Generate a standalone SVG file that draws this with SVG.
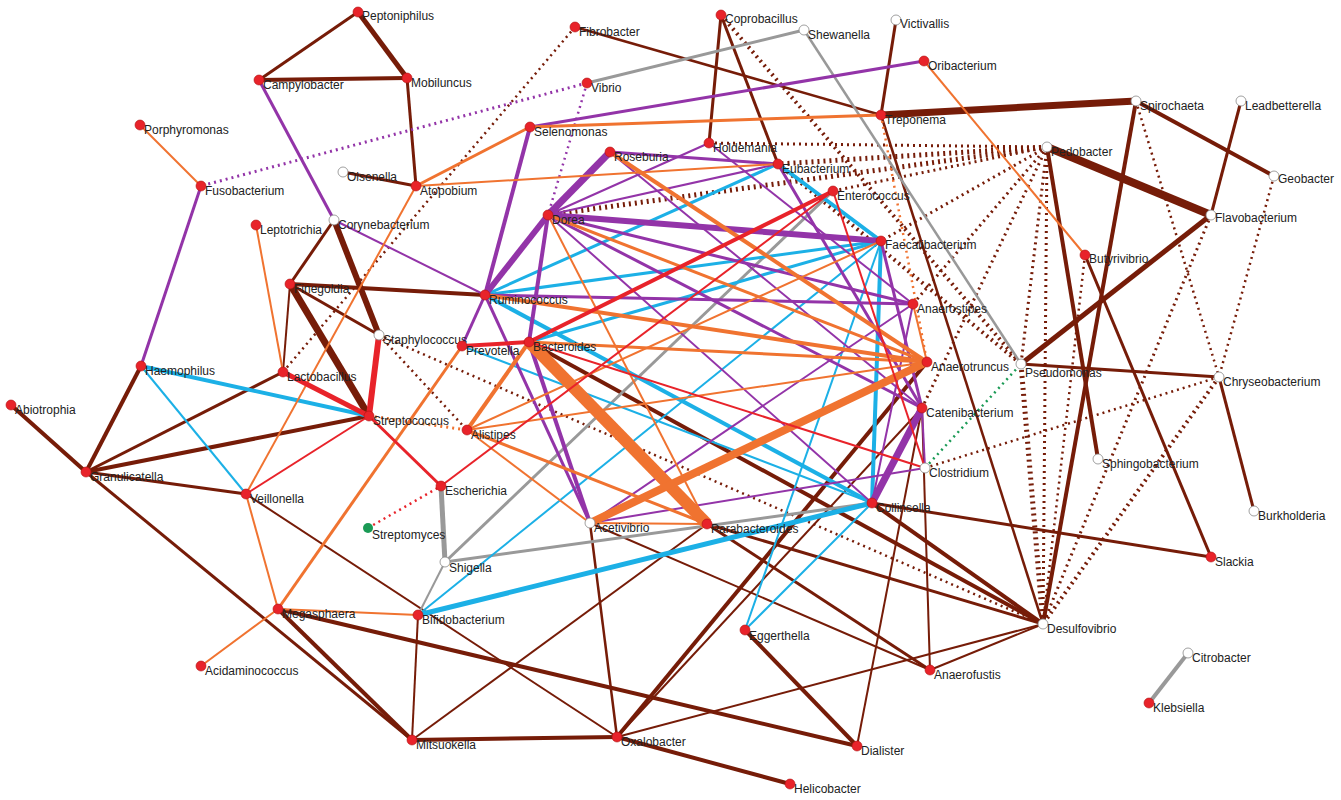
<svg xmlns="http://www.w3.org/2000/svg" width="1341" height="800" viewBox="0 0 1341 800">
<style>
text{font-family:"Liberation Sans",Arial,sans-serif;font-size:12px;fill:#222}
line{stroke-linecap:butt}
.b{stroke:#761c08}.o{stroke:#f07330}.p{stroke:#9334a8}.c{stroke:#1cb0e6}.r{stroke:#e8232a}.g{stroke:#999}.gr{stroke:#1a9a55}
.d{stroke-dasharray:2 4}
.R{fill:#e8232a;stroke:#b01010;stroke-width:.6}.W{fill:#fff;stroke:#888;stroke-width:.8}.G{fill:#1a9a55}
</style>
<rect width="1341" height="800" fill="#fff"/>
<g id="edges" fill="none">
<line class="b" stroke-width="3" x1="358" y1="12" x2="259" y2="80"/>
<line class="b" stroke-width="5" x1="358" y1="12" x2="407" y2="78"/>
<line class="b" stroke-width="4" x1="259" y1="80" x2="407" y2="78"/>
<line class="b" stroke-width="3" x1="407" y1="78" x2="416" y2="186"/>
<line class="b" stroke-width="3" x1="343" y1="172" x2="416" y2="186"/>
<line class="b" stroke-width="2.5" x1="575" y1="27" x2="881" y2="115"/>
<line class="b" stroke-width="3" x1="721" y1="15" x2="709" y2="143"/>
<line class="b" stroke-width="3" x1="721" y1="15" x2="778" y2="164"/>
<line class="b" stroke-width="3" x1="896" y1="20" x2="881" y2="115"/>
<line class="b" stroke-width="7" x1="881" y1="115" x2="1136" y2="101"/>
<line class="b" stroke-width="2.5" x1="881" y1="115" x2="1043" y2="624"/>
<line class="b" stroke-width="4" x1="1136" y1="101" x2="1274" y2="176"/>
<line class="b" stroke-width="4" x1="1136" y1="101" x2="1043" y2="624"/>
<line class="b" stroke-width="3" x1="1241" y1="101" x2="1211" y2="215"/>
<line class="b" stroke-width="8" x1="1047" y1="147" x2="1211" y2="215"/>
<line class="b" stroke-width="4" x1="1047" y1="147" x2="1098" y2="459"/>
<line class="b" stroke-width="5" x1="1211" y1="215" x2="1021" y2="364"/>
<line class="b" stroke-width="3" x1="1085" y1="255" x2="1211" y2="557"/>
<line class="b" stroke-width="3" x1="1021" y1="364" x2="1219" y2="377"/>
<line class="b" stroke-width="3" x1="1219" y1="377" x2="1254" y2="511"/>
<line class="b" stroke-width="3" x1="872" y1="503" x2="1211" y2="557"/>
<line class="b" stroke-width="3" x1="334" y1="220" x2="290" y2="284"/>
<line class="b" stroke-width="6" x1="334" y1="220" x2="379" y2="335"/>
<line class="b" stroke-width="4" x1="290" y1="284" x2="485" y2="295"/>
<line class="b" stroke-width="3" x1="290" y1="284" x2="379" y2="335"/>
<line class="b" stroke-width="7" x1="290" y1="284" x2="369" y2="416"/>
<line class="b" stroke-width="2" x1="290" y1="284" x2="283" y2="372"/>
<line class="b" stroke-width="4" x1="141" y1="366" x2="86" y2="472"/>
<line class="b" stroke-width="4" x1="11" y1="405" x2="86" y2="472"/>
<line class="b" stroke-width="3" x1="86" y1="472" x2="283" y2="372"/>
<line class="b" stroke-width="4" x1="86" y1="472" x2="369" y2="416"/>
<line class="b" stroke-width="3" x1="86" y1="472" x2="246" y2="494"/>
<line class="b" stroke-width="3" x1="86" y1="472" x2="412" y2="740"/>
<line class="b" stroke-width="2" x1="246" y1="494" x2="617" y2="737"/>
<line class="b" stroke-width="4" x1="278" y1="609" x2="412" y2="740"/>
<line class="b" stroke-width="4" x1="278" y1="609" x2="857" y2="746"/>
<line class="b" stroke-width="2" x1="418" y1="615" x2="412" y2="740"/>
<line class="b" stroke-width="4" x1="412" y1="740" x2="617" y2="737"/>
<line class="b" stroke-width="2" x1="412" y1="740" x2="707" y2="524"/>
<line class="b" stroke-width="2.5" x1="617" y1="737" x2="590" y2="523"/>
<line class="b" stroke-width="4" x1="617" y1="737" x2="927" y2="362"/>
<line class="b" stroke-width="2" x1="617" y1="737" x2="922" y2="408"/>
<line class="b" stroke-width="2" x1="617" y1="737" x2="1043" y2="624"/>
<line class="b" stroke-width="4" x1="617" y1="737" x2="790" y2="784"/>
<line class="b" stroke-width="4" x1="745" y1="630" x2="857" y2="746"/>
<line class="b" stroke-width="2" x1="857" y1="746" x2="922" y2="408"/>
<line class="b" stroke-width="3" x1="707" y1="524" x2="930" y2="670"/>
<line class="b" stroke-width="3" x1="707" y1="524" x2="1043" y2="624"/>
<line class="b" stroke-width="2" x1="590" y1="523" x2="930" y2="670"/>
<line class="b" stroke-width="4" x1="529" y1="342" x2="1043" y2="624"/>
<line class="b" stroke-width="4" x1="872" y1="503" x2="1043" y2="624"/>
<line class="b" stroke-width="2" x1="930" y1="670" x2="1043" y2="624"/>
<line class="b" stroke-width="2" x1="930" y1="670" x2="922" y2="408"/>
<line class="b d" stroke-width="5" x1="1047" y1="147" x2="548" y2="215"/>
<line class="b d" stroke-width="3" x1="1047" y1="147" x2="709" y2="143"/>
<line class="b d" stroke-width="5" x1="1047" y1="147" x2="778" y2="164"/>
<line class="b d" stroke-width="3" x1="1047" y1="147" x2="833" y2="191"/>
<line class="b d" stroke-width="3" x1="1047" y1="147" x2="881" y2="241"/>
<line class="b d" stroke-width="3" x1="1047" y1="147" x2="913" y2="304"/>
<line class="b d" stroke-width="3" x1="1047" y1="147" x2="922" y2="408"/>
<line class="b d" stroke-width="3" x1="1047" y1="147" x2="1021" y2="364"/>
<line class="b d" stroke-width="3" x1="1047" y1="147" x2="1043" y2="624"/>
<line class="b d" stroke-width="4" x1="721" y1="15" x2="1021" y2="364"/>
<line class="b d" stroke-width="4" x1="778" y1="164" x2="1021" y2="364"/>
<line class="b d" stroke-width="5" x1="1021" y1="364" x2="1043" y2="624"/>
<line class="b d" stroke-width="3" x1="1211" y1="215" x2="1043" y2="624"/>
<line class="b d" stroke-width="4" x1="1219" y1="377" x2="1043" y2="624"/>
<line class="b d" stroke-width="2.5" x1="1274" y1="176" x2="1219" y2="377"/>
<line class="b d" stroke-width="2.5" x1="1136" y1="101" x2="1219" y2="377"/>
<line class="b d" stroke-width="2.5" x1="1219" y1="377" x2="925" y2="468"/>
<line class="b d" stroke-width="2.5" x1="1085" y1="255" x2="1043" y2="624"/>
<line class="b d" stroke-width="2.5" x1="379" y1="335" x2="467" y2="430"/>
<line class="b d" stroke-width="2.5" x1="379" y1="335" x2="1043" y2="624"/>
<line class="b d" stroke-width="2.5" x1="575" y1="27" x2="283" y2="372"/>
<line class="p d" stroke-width="3" x1="587" y1="83" x2="201" y2="186"/>
<line class="p d" stroke-width="2.5" x1="587" y1="83" x2="548" y2="215"/>
<line class="r d" stroke-width="2.5" x1="368" y1="528" x2="441" y2="486"/>
<line class="gr d" stroke-width="2.5" x1="925" y1="468" x2="1021" y2="364"/>
<line class="o d" stroke-width="2.5" x1="881" y1="115" x2="927" y2="362"/>
<line class="o d" stroke-width="3" x1="369" y1="416" x2="467" y2="430"/>
<line class="g" stroke-width="3" x1="587" y1="83" x2="804" y2="30"/>
<line class="g" stroke-width="2.5" x1="804" y1="30" x2="1021" y2="364"/>
<line class="g" stroke-width="3" x1="833" y1="191" x2="445" y2="562"/>
<line class="g" stroke-width="5" x1="441" y1="486" x2="445" y2="562"/>
<line class="g" stroke-width="2" x1="445" y1="562" x2="418" y2="615"/>
<line class="g" stroke-width="3" x1="445" y1="562" x2="872" y2="503"/>
<line class="g" stroke-width="4" x1="1188" y1="653" x2="1149" y2="703"/>
<line class="c" stroke-width="4" x1="141" y1="366" x2="369" y2="416"/>
<line class="c" stroke-width="2" x1="141" y1="366" x2="246" y2="494"/>
<line class="c" stroke-width="5" x1="418" y1="615" x2="872" y2="503"/>
<line class="c" stroke-width="2" x1="418" y1="615" x2="881" y2="241"/>
<line class="c" stroke-width="3" x1="485" y1="295" x2="778" y2="164"/>
<line class="c" stroke-width="3" x1="485" y1="295" x2="881" y2="241"/>
<line class="c" stroke-width="4" x1="485" y1="295" x2="872" y2="503"/>
<line class="c" stroke-width="3" x1="529" y1="342" x2="881" y2="241"/>
<line class="c" stroke-width="4" x1="778" y1="164" x2="881" y2="241"/>
<line class="c" stroke-width="4" x1="881" y1="241" x2="872" y2="503"/>
<line class="c" stroke-width="2" x1="881" y1="241" x2="745" y2="630"/>
<line class="c" stroke-width="2" x1="872" y1="503" x2="745" y2="630"/>
<line class="c" stroke-width="2" x1="462" y1="346" x2="872" y2="503"/>
<line class="p" stroke-width="3" x1="259" y1="80" x2="334" y2="220"/>
<line class="p" stroke-width="2" x1="334" y1="220" x2="485" y2="295"/>
<line class="p" stroke-width="3" x1="201" y1="186" x2="141" y2="366"/>
<line class="p" stroke-width="3" x1="530" y1="127" x2="924" y2="61"/>
<line class="p" stroke-width="4" x1="530" y1="127" x2="485" y2="295"/>
<line class="p" stroke-width="6" x1="485" y1="295" x2="548" y2="215"/>
<line class="p" stroke-width="7" x1="548" y1="215" x2="610" y2="152"/>
<line class="p" stroke-width="3" x1="610" y1="152" x2="778" y2="164"/>
<line class="p" stroke-width="2" x1="610" y1="152" x2="922" y2="408"/>
<line class="p" stroke-width="2" x1="709" y1="143" x2="548" y2="215"/>
<line class="p" stroke-width="2" x1="709" y1="143" x2="913" y2="304"/>
<line class="p" stroke-width="2" x1="548" y1="215" x2="778" y2="164"/>
<line class="p" stroke-width="6" x1="548" y1="215" x2="881" y2="241"/>
<line class="p" stroke-width="3" x1="548" y1="215" x2="913" y2="304"/>
<line class="p" stroke-width="3" x1="548" y1="215" x2="922" y2="408"/>
<line class="p" stroke-width="4" x1="548" y1="215" x2="529" y2="342"/>
<line class="p" stroke-width="2" x1="548" y1="215" x2="872" y2="503"/>
<line class="p" stroke-width="3" x1="485" y1="295" x2="913" y2="304"/>
<line class="p" stroke-width="3" x1="485" y1="295" x2="462" y2="346"/>
<line class="p" stroke-width="3" x1="485" y1="295" x2="590" y2="523"/>
<line class="p" stroke-width="4" x1="529" y1="342" x2="590" y2="523"/>
<line class="p" stroke-width="3" x1="778" y1="164" x2="922" y2="408"/>
<line class="p" stroke-width="3" x1="881" y1="241" x2="922" y2="408"/>
<line class="p" stroke-width="2" x1="913" y1="304" x2="872" y2="503"/>
<line class="p" stroke-width="7" x1="922" y1="408" x2="872" y2="503"/>
<line class="p" stroke-width="2" x1="922" y1="408" x2="925" y2="468"/>
<line class="p" stroke-width="2" x1="590" y1="523" x2="925" y2="468"/>
<line class="p" stroke-width="2" x1="590" y1="523" x2="913" y2="304"/>
<line class="o" stroke-width="2" x1="140" y1="125" x2="201" y2="186"/>
<line class="o" stroke-width="2" x1="256" y1="225" x2="283" y2="372"/>
<line class="o" stroke-width="2" x1="924" y1="61" x2="1085" y2="255"/>
<line class="o" stroke-width="3" x1="530" y1="127" x2="416" y2="186"/>
<line class="o" stroke-width="2" x1="416" y1="186" x2="778" y2="164"/>
<line class="o" stroke-width="2" x1="416" y1="186" x2="246" y2="494"/>
<line class="o" stroke-width="3" x1="881" y1="115" x2="530" y2="127"/>
<line class="o" stroke-width="2" x1="246" y1="494" x2="278" y2="609"/>
<line class="o" stroke-width="2" x1="278" y1="609" x2="201" y2="666"/>
<line class="o" stroke-width="2" x1="278" y1="609" x2="418" y2="615"/>
<line class="o" stroke-width="3" x1="278" y1="609" x2="462" y2="346"/>
<line class="o" stroke-width="4" x1="610" y1="152" x2="927" y2="362"/>
<line class="o" stroke-width="3" x1="548" y1="215" x2="927" y2="362"/>
<line class="o" stroke-width="2" x1="548" y1="215" x2="707" y2="524"/>
<line class="o" stroke-width="4" x1="485" y1="295" x2="927" y2="362"/>
<line class="o" stroke-width="3" x1="529" y1="342" x2="927" y2="362"/>
<line class="o" stroke-width="12" x1="529" y1="342" x2="707" y2="524"/>
<line class="o" stroke-width="4" x1="529" y1="342" x2="467" y2="430"/>
<line class="o" stroke-width="2" x1="467" y1="430" x2="881" y2="241"/>
<line class="o" stroke-width="2" x1="467" y1="430" x2="927" y2="362"/>
<line class="o" stroke-width="3" x1="467" y1="430" x2="707" y2="524"/>
<line class="o" stroke-width="2" x1="467" y1="430" x2="590" y2="523"/>
<line class="o" stroke-width="8" x1="590" y1="523" x2="927" y2="362"/>
<line class="o" stroke-width="2" x1="590" y1="523" x2="707" y2="524"/>
<line class="o" stroke-width="2" x1="913" y1="304" x2="927" y2="362"/>
<line class="r" stroke-width="6" x1="379" y1="335" x2="369" y2="416"/>
<line class="r" stroke-width="5" x1="283" y1="372" x2="369" y2="416"/>
<line class="r" stroke-width="3" x1="369" y1="416" x2="441" y2="486"/>
<line class="r" stroke-width="2" x1="369" y1="416" x2="246" y2="494"/>
<line class="r" stroke-width="2" x1="441" y1="486" x2="833" y2="191"/>
<line class="r" stroke-width="4" x1="529" y1="342" x2="833" y2="191"/>
<line class="r" stroke-width="4" x1="462" y1="346" x2="529" y2="342"/>
<line class="r" stroke-width="2" x1="833" y1="191" x2="925" y2="468"/>
<line class="r" stroke-width="2" x1="529" y1="342" x2="925" y2="468"/>
</g>
<g id="n-Peptoniphilus"><circle class="R" cx="358" cy="12" r="5"/><text x="362" y="20">Peptoniphilus</text></g>
<g id="n-Campylobacter"><circle class="R" cx="259" cy="80" r="5"/><text x="263" y="89">Campylobacter</text></g>
<g id="n-Mobiluncus"><circle class="R" cx="407" cy="78" r="5"/><text x="411" y="87">Mobiluncus</text></g>
<g id="n-Fibrobacter"><circle class="R" cx="575" cy="27" r="5"/><text x="579" y="36">Fibrobacter</text></g>
<g id="n-Coprobacillus"><circle class="R" cx="721" cy="15" r="5"/><text x="725" y="23">Coprobacillus</text></g>
<g id="n-Shewanella"><circle class="W" cx="804" cy="30" r="5"/><text x="808" y="39">Shewanella</text></g>
<g id="n-Victivallis"><circle class="W" cx="896" cy="20" r="5"/><text x="900" y="28">Victivallis</text></g>
<g id="n-Oribacterium"><circle class="R" cx="924" cy="61" r="5"/><text x="928" y="70">Oribacterium</text></g>
<g id="n-Vibrio"><circle class="R" cx="587" cy="83" r="5"/><text x="591" y="92">Vibrio</text></g>
<g id="n-Porphyromonas"><circle class="R" cx="140" cy="125" r="5"/><text x="144" y="134">Porphyromonas</text></g>
<g id="n-Spirochaeta"><circle class="W" cx="1136" cy="101" r="5"/><text x="1140" y="110">Spirochaeta</text></g>
<g id="n-Leadbetterella"><circle class="W" cx="1241" cy="101" r="5"/><text x="1245" y="110">Leadbetterella</text></g>
<g id="n-Treponema"><circle class="R" cx="881" cy="115" r="5"/><text x="885" y="124">Treponema</text></g>
<g id="n-Selenomonas"><circle class="R" cx="530" cy="127" r="5"/><text x="534" y="136">Selenomonas</text></g>
<g id="n-Holdemania"><circle class="R" cx="709" cy="143" r="5"/><text x="713" y="152">Holdemania</text></g>
<g id="n-Roseburia"><circle class="R" cx="610" cy="152" r="5"/><text x="614" y="161">Roseburia</text></g>
<g id="n-Eubacterium"><circle class="R" cx="778" cy="164" r="5"/><text x="782" y="173">Eubacterium</text></g>
<g id="n-Pedobacter"><circle class="W" cx="1047" cy="147" r="5"/><text x="1051" y="156">Pedobacter</text></g>
<g id="n-Geobacter"><circle class="W" cx="1274" cy="176" r="5"/><text x="1278" y="183">Geobacter</text></g>
<g id="n-Olsenella"><circle class="W" cx="343" cy="172" r="5"/><text x="347" y="181">Olsenella</text></g>
<g id="n-Atopobium"><circle class="R" cx="416" cy="186" r="5"/><text x="420" y="195">Atopobium</text></g>
<g id="n-Fusobacterium"><circle class="R" cx="201" cy="186" r="5"/><text x="205" y="195">Fusobacterium</text></g>
<g id="n-Enterococcus"><circle class="R" cx="833" cy="191" r="5"/><text x="837" y="200">Enterococcus</text></g>
<g id="n-Dorea"><circle class="R" cx="548" cy="215" r="5"/><text x="552" y="224">Dorea</text></g>
<g id="n-Flavobacterium"><circle class="W" cx="1211" cy="215" r="5"/><text x="1215" y="222">Flavobacterium</text></g>
<g id="n-Leptotrichia"><circle class="R" cx="256" cy="225" r="5"/><text x="260" y="234">Leptotrichia</text></g>
<g id="n-Corynebacterium"><circle class="W" cx="334" cy="220" r="5"/><text x="338" y="229">Corynebacterium</text></g>
<g id="n-Faecalibacterium"><circle class="R" cx="881" cy="241" r="5"/><text x="885" y="249">Faecalibacterium</text></g>
<g id="n-Butyrivibrio"><circle class="R" cx="1085" cy="255" r="5"/><text x="1089" y="263">Butyrivibrio</text></g>
<g id="n-Finegoldia"><circle class="R" cx="290" cy="284" r="5"/><text x="294" y="293">Finegoldia</text></g>
<g id="n-Ruminococcus"><circle class="R" cx="485" cy="295" r="5"/><text x="489" y="304">Ruminococcus</text></g>
<g id="n-Anaerostipes"><circle class="R" cx="913" cy="304" r="5"/><text x="917" y="313">Anaerostipes</text></g>
<g id="n-Staphylococcus"><circle class="W" cx="379" cy="335" r="5"/><text x="383" y="344">Staphylococcus</text></g>
<g id="n-Prevotella"><circle class="R" cx="462" cy="346" r="5"/><text x="466" y="355">Prevotella</text></g>
<g id="n-Bacteroides"><circle class="R" cx="529" cy="342" r="5"/><text x="533" y="351">Bacteroides</text></g>
<g id="n-Anaerotruncus"><circle class="R" cx="927" cy="362" r="5"/><text x="931" y="371">Anaerotruncus</text></g>
<g id="n-Pseudomonas"><circle class="W" cx="1021" cy="364" r="5"/><text x="1025" y="377">Pseudomonas</text></g>
<g id="n-Chryseobacterium"><circle class="W" cx="1219" cy="377" r="5"/><text x="1223" y="386">Chryseobacterium</text></g>
<g id="n-Haemophilus"><circle class="R" cx="141" cy="366" r="5"/><text x="145" y="375">Haemophilus</text></g>
<g id="n-Lactobacillus"><circle class="R" cx="283" cy="372" r="5"/><text x="287" y="381">Lactobacillus</text></g>
<g id="n-Abiotrophia"><circle class="R" cx="11" cy="405" r="5"/><text x="15" y="414">Abiotrophia</text></g>
<g id="n-Streptococcus"><circle class="R" cx="369" cy="416" r="5"/><text x="373" y="425">Streptococcus</text></g>
<g id="n-Alistipes"><circle class="R" cx="467" cy="430" r="5"/><text x="471" y="439">Alistipes</text></g>
<g id="n-Catenibacterium"><circle class="R" cx="922" cy="408" r="5"/><text x="926" y="417">Catenibacterium</text></g>
<g id="n-Clostridium"><circle class="W" cx="925" cy="468" r="5"/><text x="929" y="477">Clostridium</text></g>
<g id="n-Sphingobacterium"><circle class="W" cx="1098" cy="459" r="5"/><text x="1102" y="468">Sphingobacterium</text></g>
<g id="n-Granulicatella"><circle class="R" cx="86" cy="472" r="5"/><text x="90" y="481">Granulicatella</text></g>
<g id="n-Escherichia"><circle class="R" cx="441" cy="486" r="5"/><text x="445" y="495">Escherichia</text></g>
<g id="n-Veillonella"><circle class="R" cx="246" cy="494" r="5"/><text x="250" y="503">Veillonella</text></g>
<g id="n-Collinsella"><circle class="R" cx="872" cy="503" r="5"/><text x="876" y="512">Collinsella</text></g>
<g id="n-Burkholderia"><circle class="W" cx="1254" cy="511" r="5"/><text x="1258" y="520">Burkholderia</text></g>
<g id="n-Acetivibrio"><circle class="W" cx="590" cy="523" r="5"/><text x="594" y="532">Acetivibrio</text></g>
<g id="n-Parabacteroides"><circle class="R" cx="707" cy="524" r="5"/><text x="711" y="533">Parabacteroides</text></g>
<g id="n-Streptomyces"><circle class="G" cx="368" cy="528" r="5"/><text x="372" y="539">Streptomyces</text></g>
<g id="n-Shigella"><circle class="W" cx="445" cy="562" r="5"/><text x="449" y="572">Shigella</text></g>
<g id="n-Slackia"><circle class="R" cx="1211" cy="557" r="5"/><text x="1215" y="566">Slackia</text></g>
<g id="n-Megasphaera"><circle class="R" cx="278" cy="609" r="5"/><text x="282" y="618">Megasphaera</text></g>
<g id="n-Bifidobacterium"><circle class="R" cx="418" cy="615" r="5"/><text x="422" y="624">Bifidobacterium</text></g>
<g id="n-Eggerthella"><circle class="R" cx="745" cy="630" r="5"/><text x="749" y="640">Eggerthella</text></g>
<g id="n-Desulfovibrio"><circle class="W" cx="1043" cy="624" r="5"/><text x="1047" y="633">Desulfovibrio</text></g>
<g id="n-Citrobacter"><circle class="W" cx="1188" cy="653" r="5"/><text x="1192" y="662">Citrobacter</text></g>
<g id="n-Anaerofustis"><circle class="R" cx="930" cy="670" r="5"/><text x="934" y="679">Anaerofustis</text></g>
<g id="n-Acidaminococcus"><circle class="R" cx="201" cy="666" r="5"/><text x="205" y="675">Acidaminococcus</text></g>
<g id="n-Klebsiella"><circle class="R" cx="1149" cy="703" r="5"/><text x="1153" y="712">Klebsiella</text></g>
<g id="n-Mitsuokella"><circle class="R" cx="412" cy="740" r="5"/><text x="416" y="749">Mitsuokella</text></g>
<g id="n-Oxalobacter"><circle class="R" cx="617" cy="737" r="5"/><text x="621" y="746">Oxalobacter</text></g>
<g id="n-Dialister"><circle class="R" cx="857" cy="746" r="5"/><text x="861" y="755">Dialister</text></g>
<g id="n-Helicobacter"><circle class="R" cx="790" cy="784" r="5"/><text x="794" y="793">Helicobacter</text></g>
</svg>
